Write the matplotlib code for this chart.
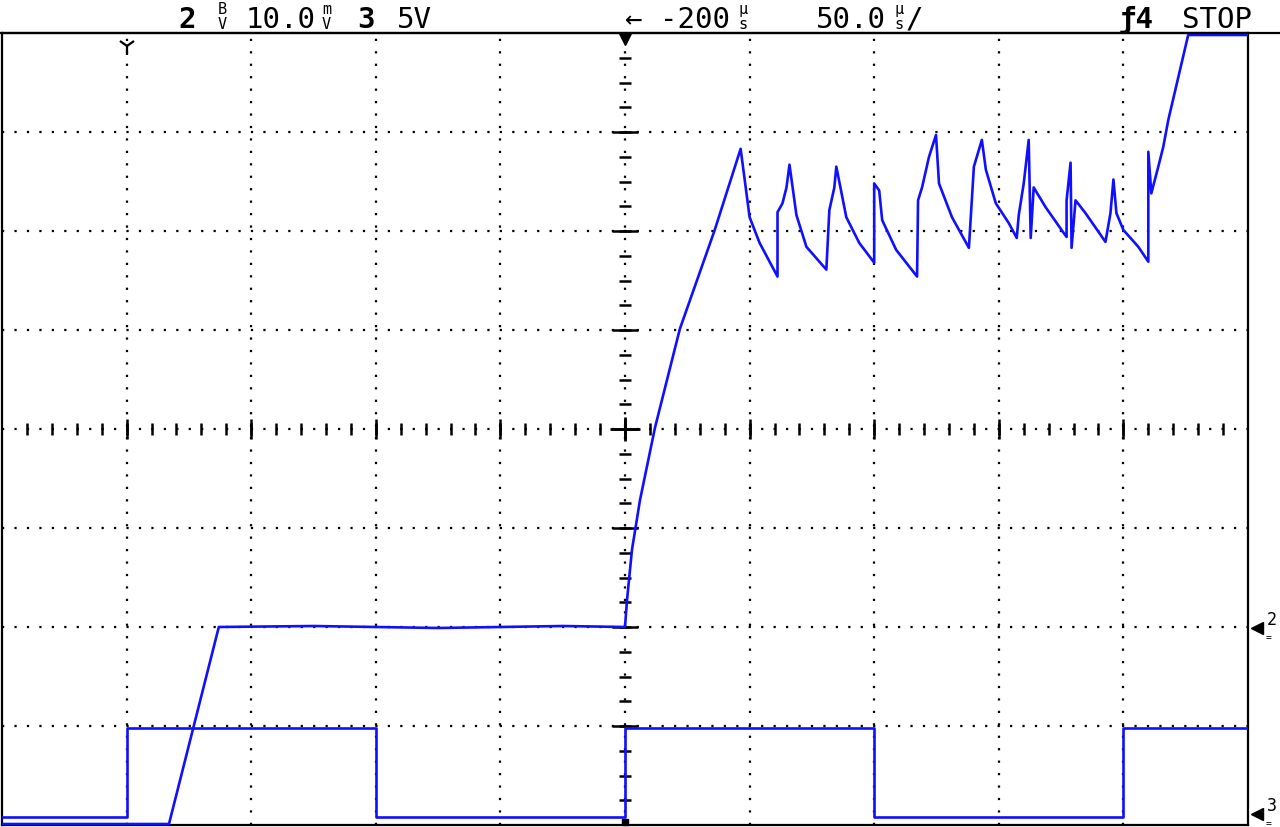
import numpy as np
import matplotlib
matplotlib.use("Agg")
import matplotlib.pyplot as plt
from matplotlib.lines import Line2D

# screen is 10 x 8 divisions, values in divisions
ch2X = [0.0, 1.34, 1.74, 2.5, 3.5, 4.5, 5.0,
        5.016, 5.056, 5.12, 5.24, 5.44, 5.72, 5.928,
        6.0, 6.08, 6.224, 6.224, 6.264, 6.296, 6.32,
        6.376, 6.456, 6.616, 6.64, 6.68, 6.696,
        6.776, 6.88, 7.0, 7.0, 7.04, 7.064, 7.176, 7.344,
        7.352, 7.384, 7.44, 7.496, 7.52, 7.624, 7.76,
        7.8, 7.864, 7.896, 7.976, 8.08, 8.144,
        8.16, 8.2, 8.24, 8.256, 8.28, 8.376, 8.504, 8.544,
        8.544, 8.576, 8.584, 8.616, 8.696, 8.856,
        8.896, 8.92, 8.944, 9.0, 9.12, 9.2,
        9.2, 9.224, 9.28, 9.32, 9.36, 9.52, 10.0]
ch2Y = [0.01, 0.01, 2.0, 2.01, 1.99, 2.01, 2.0,
        2.27, 2.78, 3.28, 4.01, 5.01, 6.01, 6.83,
        6.14, 5.88, 5.54, 6.19, 6.28, 6.44, 6.67,
        6.16, 5.84, 5.61, 6.21, 6.44, 6.65,
        6.14, 5.88, 5.68, 6.48, 6.41, 6.11, 5.81, 5.54,
        6.31, 6.44, 6.75, 6.97, 6.48, 6.14, 5.83,
        6.65, 6.92, 6.62, 6.28, 6.08, 5.93,
        6.16, 6.48, 6.92, 5.93, 6.44, 6.24, 6.01, 5.94,
        6.31, 6.69, 5.83, 6.31, 6.18, 5.89,
        6.18, 6.52, 6.18, 6.01, 5.84, 5.69,
        6.8, 6.38, 6.65, 6.85, 7.12, 7.98, 7.98]

ch3X = [0.0, 1.0, 1.0, 3.0, 3.0, 5.0, 5.0, 7.0, 7.0, 9.0, 9.0, 10.0]
ch3Y = [0.08, 0.08, 0.98, 0.98, 0.08, 0.08, 0.98, 0.98, 0.08, 0.08, 0.98, 0.98]

headerLeft = ["2", "10.0", "3", "5V"]
headerRight = ["\u2190", "-200", "50.0", "/", "\u01924", "STOP"]

traceColor = "#1010ff"
W, H = 1280, 828


def px(x, y):
  return x / W, 1 - y / H


def drawGrid(ax):
  dots = (0, (1, 4.6))
  for i in range(1, 10):
    ax.axvline(i, color="k", lw=1.6, ls=dots, zorder=1)
  for j in range(1, 8):
    ax.axhline(j, color="k", lw=1.6, ls=dots, zorder=1)

  # ticks along the centre lines
  yMinor = np.arange(0.25, 8, 0.25)
  ax.plot(np.full(len(yMinor), 5.0), yMinor, ls="none", marker="_",
          ms=8, mew=1.8, color="k", zorder=2)
  yMajor = np.arange(1, 8)
  ax.plot(np.full(len(yMajor), 5.0), yMajor, ls="none", marker="_",
          ms=19, mew=1.8, color="k", zorder=2)
  xMinor = np.arange(0.2, 10, 0.2)
  ax.plot(xMinor, np.full(len(xMinor), 4.0), ls="none", marker="|",
          ms=9, mew=1.8, color="k", zorder=2)
  xMajor = np.arange(1, 10)
  ax.plot(xMajor, np.full(len(xMajor), 4.0), ls="none", marker="|",
          ms=14, mew=1.8, color="k", zorder=2)
  ax.plot([5.0], [4.0], ls="none", marker="_", ms=22, mew=2, color="k", zorder=2)
  ax.plot([5.0], [4.0], ls="none", marker="|", ms=17, mew=2, color="k", zorder=2)


def drawHeader(fig):
  mono = dict(family="DejaVu Sans Mono", fontsize=21, va="baseline", color="k")
  small = dict(family="DejaVu Sans Mono", fontsize=11, va="baseline", color="k")

  fig.text(*px(178, 28), headerLeft[0], fontweight="bold", **mono)
  fig.text(*px(218, 14), "B", **small)
  fig.text(*px(218, 29), "V", **small)
  fig.text(*px(246, 28), headerLeft[1], **mono)
  fig.text(*px(322, 14), "m", **small)
  fig.text(*px(322, 29), "V", **small)
  fig.text(*px(357, 28), headerLeft[2], fontweight="bold", **mono)
  fig.text(*px(397, 28), headerLeft[3], **mono)

  fig.text(*px(624, 28), headerRight[0], **mono)
  fig.text(*px(660, 28), headerRight[1], **mono)
  fig.text(*px(738, 14), "\u03bc", **small)
  fig.text(*px(738, 29), "s", **small)
  fig.text(*px(816, 28), headerRight[2], **mono)
  fig.text(*px(894, 14), "\u03bc", **small)
  fig.text(*px(894, 29), "s", **small)
  fig.text(*px(906, 28), headerRight[3], **mono)
  fig.text(*px(1119, 28), headerRight[4], fontweight="bold", **mono)
  fig.text(*px(1182, 28), headerRight[5], **mono)

  # line under the header, full width
  fig.add_artist(Line2D([0, 1], [1 - 33.5 / H] * 2, color="k", lw=1.6,
                        transform=fig.transFigure))

  # ground markers on the right
  for yPix, label in [(629, "2"), (815, "3")]:
    fig.add_artist(Line2D([1257 / W], [1 - yPix / H], marker="<", ms=9,
                          color="k", transform=fig.transFigure))
    fig.text(*px(1267, yPix - 4), label, family="DejaVu Sans Mono",
             fontsize=12, va="baseline")
    fig.text(*px(1266, yPix + 12), "=", family="DejaVu Sans Mono",
             fontsize=7, va="baseline")


def drawPlot():
  fig = plt.figure(figsize=(W / 100, H / 100), dpi=100)
  fig.set_facecolor("white")
  ax = fig.add_axes([2 / W, 2 / H, 1246 / W, 792 / H])
  ax.set_xlim(0, 10)
  ax.set_ylim(0, 8)
  ax.set_xticks([])
  ax.set_yticks([])
  for sp in ax.spines.values():
    sp.set_linewidth(1.6)
    sp.set_color("k")

  drawGrid(ax)

  ax.plot(ch3X, ch3Y, color=traceColor, lw=1.9, zorder=4)
  ax.plot(ch2X, ch2Y, color=traceColor, lw=1.9, zorder=4)

  # cursor and trigger markers
  ax.plot([1.0], [7.87], marker="1", ms=13, mew=1.6, color="k", clip_on=False, zorder=5)
  ax.plot([5.0], [7.94], marker="v", ms=8, color="k", clip_on=False, zorder=5)
  ax.plot([5.0], [0.03], marker="s", ms=4, color="k", clip_on=False, zorder=5)

  drawHeader(fig)

  plt.savefig("out.png", dpi=100, facecolor=fig.get_facecolor())


if __name__ == "__main__":
  drawPlot()
